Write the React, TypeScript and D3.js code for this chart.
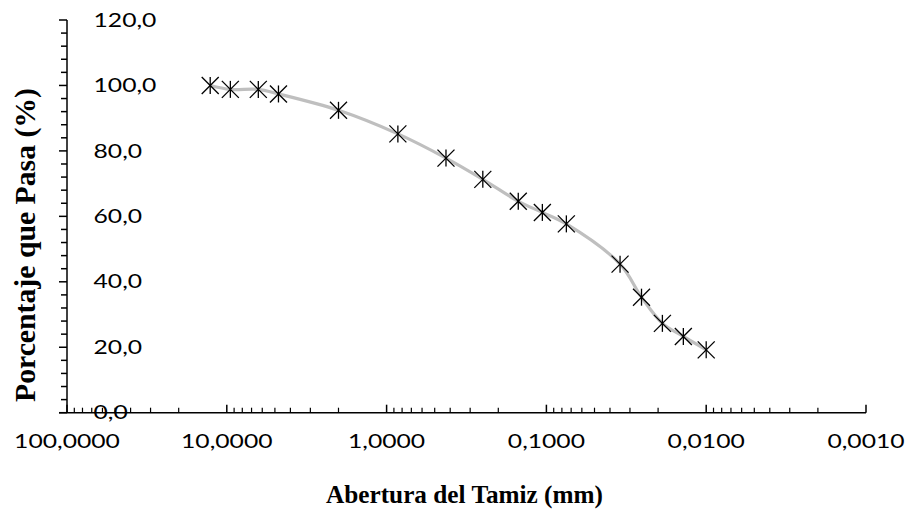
import React from "react";
import * as d3 from "d3";

const aperture = [12.7, 9.5, 6.35, 4.75, 2.0, 0.85, 0.425, 0.25, 0.15, 0.106, 0.075, 0.0346, 0.0254, 0.0188, 0.0139, 0.01];
const passing = [100.0, 98.8, 98.8, 97.4, 92.4, 85.2, 77.8, 71.3, 64.6, 61.2, 57.7, 45.4, 35.3, 27.3, 23.3, 19.2];
const xMajorTicks = [100, 10, 1, 0.1, 0.01, 0.001];
const yMajorTicks = [0, 20, 40, 60, 80, 100, 120];
const xTitle = "Abertura del Tamiz (mm)";
const yTitle = "Porcentaje que Pasa (%)";

const W = 909;
const H = 510;
const left = 67;
const right = 866;
const top = 20;
const bottom = 412.7;

export default function App() {
  const x = d3.scaleLog().domain([100, 0.001]).range([left, right]);
  const y = d3.scaleLinear().domain([0, 120]).range([bottom, top]);

  const xMinor: number[] = [];
  for (let d = 0; d < xMajorTicks.length - 1; d++) {
    const base = xMajorTicks[d + 1];
    for (let k = 2; k <= 9; k++) xMinor.push(base * k);
  }
  const yMinor = d3.range(0, 121, 4).filter((v) => v % 20 !== 0);

  const pts: [number, number][] = aperture.map((a, i) => [x(a), y(passing[i])]);
  const line = d3.line().curve(d3.curveCatmullRom.alpha(0.5))(pts) || "";

  const sx = 1.3;
  const tickFont = "Lato, 'Open Sans', sans-serif";
  const r = 8.5;
  const serif = "'Liberation Serif', 'Times New Roman', serif";

  return (
    <svg width={W} height={H} style={{ position: "absolute", left: 0, top: 0, background: "#fff" }}>
      <rect width={W} height={H} fill="#fff" />
      {/* y axis */}
      <line x1={left} x2={left} y1={top} y2={bottom} stroke="#000" strokeWidth={1.5} />
      {yMajorTicks.map((v) => (
        <line key={"ym" + v} x1={left - 8} x2={left} y1={y(v)} y2={y(v)} stroke="#000" strokeWidth={1.5} />
      ))}
      {yMinor.map((v) => (
        <line key={"yn" + v} x1={left - 6} x2={left} y1={y(v)} y2={y(v)} stroke="#000" strokeWidth={1.5} />
      ))}
      {/* x axis */}
      <line x1={left - 8} x2={right} y1={bottom} y2={bottom} stroke="#000" strokeWidth={1.5} />
      {xMajorTicks.map((v) => (
        <line key={"xm" + v} x1={x(v)} x2={x(v)} y1={bottom} y2={bottom - 8} stroke="#000" strokeWidth={1.5} />
      ))}
      {xMinor.map((v, i) => (
        <line key={"xn" + i} x1={x(v)} x2={x(v)} y1={bottom} y2={bottom - 5} stroke="#000" strokeWidth={1.2} />
      ))}
      {/* curve */}
      <path d={line} fill="none" stroke="#BFBFBF" strokeWidth={3.2} />
      {/* markers */}
      {pts.map(([px, py], i) => (
        <g key={"p" + i} stroke="#000" strokeWidth={1.3}>
          <line x1={px - r} y1={py - r} x2={px + r} y2={py + r} />
          <line x1={px - r} y1={py + r} x2={px + r} y2={py - r} />
          <line x1={px} y1={py - r} x2={px} y2={py + r} />
        </g>
      ))}
      {/* y tick labels */}
      {yMajorTicks.map((v) => (
        <text
          key={"yl" + v}
          transform={`translate(93.5,${y(v)}) scale(${sx},1)`}
          dy="0.35em"
          fontFamily={tickFont}
          fontSize={19}
          fill="#000"
        >
          {v.toFixed(1).replace(".", ",")}
        </text>
      ))}
      {/* x tick labels */}
      {xMajorTicks.map((v) => (
        <text
          key={"xl" + v}
          transform={`translate(${x(v)},448) scale(${sx},1)`}
          textAnchor="middle"
          fontFamily={tickFont}
          fontSize={19}
          fill="#000"
        >
          {v.toFixed(4).replace(".", ",")}
        </text>
      ))}
      {/* titles */}
      <text
        x={326}
        y={503}
        textLength={277}
        lengthAdjust="spacingAndGlyphs"
        fontFamily={serif}
        fontWeight="bold"
        fontSize={26}
        fill="#000"
      >
        {xTitle}
      </text>
      <text
        transform={`translate(35,402) rotate(-90)`}
        textLength={314}
        lengthAdjust="spacingAndGlyphs"
        fontFamily={serif}
        fontWeight="bold"
        fontSize={28.5}
        fill="#000"
      >
        {yTitle}
      </text>
    </svg>
  );
}
